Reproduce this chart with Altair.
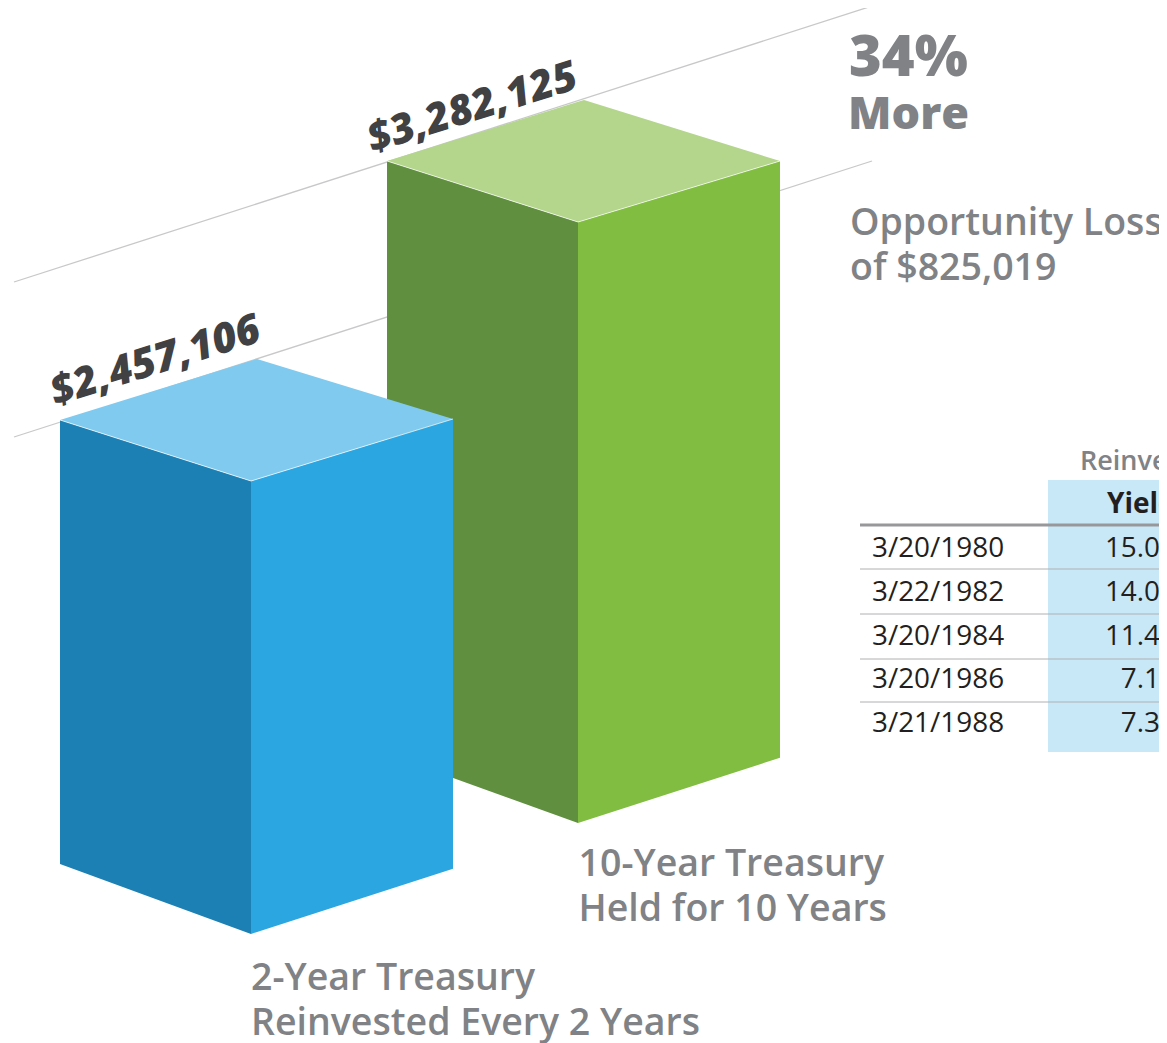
import altair as alt
import pandas as pd

# ---- values ----
bar_names = ["2-Year Treasury", "10-Year Treasury"]
bar_values = [2457106, 3282125]
bar_labels = ["$2,457,106", "$3,282,125"]
bar_captions = [["2-Year Treasury", "Reinvested Every 2 Years"], ["10-Year Treasury", "Held for 10 Years"]]
callout_big = ["34%", "More"]
callout_small = ["Opportunity Loss", "of $825,019"]
table_dates = ["3/20/1980", "3/22/1982", "3/20/1984", "3/20/1986", "3/21/1988"]
table_yields = ["15.03", "14.09", "11.45", "7.17", "7.32"]

PAGE_W, PAGE_H = 1159, 1043
M = 8
X = alt.Scale(domain=[M, PAGE_W], range=[0, PAGE_W - M], nice=False, zero=False)
Y = alt.Scale(domain=[M, PAGE_H], range=[0, PAGE_H - M], nice=False, zero=False)

GREY = "#808285"
DARK = "#414042"
INK = "#231f20"
FONT = "Open Sans"


def height_px(v):
    # linear value scale of the drawing, in pixels of front edge
    return (v + 67900) * 148 / 825019


# geometry of each box: corner x, top corner y, edge shrink from perspective
boxes = {
    "blue": dict(v=bar_values[0], xl=60, xf=251, xb=257, xr=453, yl=420, yf=481, yb=359, yr=419,
                 kl=0.980, kr=0.993, left="#1c80b4", right="#2ca6e0", top="#80caef"),
    "green": dict(v=bar_values[1], xl=387, xf=578, xb=584, xr=780, yl=161, yf=222, yb=100, yr=161,
                  kl=0.987, kr=0.993, left="#5f8f3f", right="#80bd41", top="#b3d68c"),
}


def lerp(x, x0, y0, x1, y1):
    return y0 + (y1 - y0) * (x - x0) / (x1 - x0)


def box_layers(b):
    h = height_px(b["v"])
    left = pd.DataFrame({"x": [b["xl"], b["xf"]], "y": [b["yl"], b["yf"]],
                         "y2": [b["yl"] + h * b["kl"], b["yf"] + h]})
    right = pd.DataFrame({"x": [b["xf"], b["xr"]], "y": [b["yf"], b["yr"]],
                          "y2": [b["yf"] + h, b["yr"] + h * b["kr"]]})
    top = pd.DataFrame({
        "x": [b["xl"], b["xf"], b["xb"], b["xr"]],
        "y": [b["yl"], lerp(b["xf"], b["xl"], b["yl"], b["xb"], b["yb"]), b["yb"], b["yr"]],
        "y2": [b["yl"], b["yf"], lerp(b["xb"], b["xf"], b["yf"], b["xr"], b["yr"]), b["yr"]],
    })
    out = []
    for df, col in ((left, b["left"]), (right, b["right"]), (top, b["top"])):
        out.append(alt.Chart(df).mark_area(color=col, opacity=1, line=False).encode(
            x=alt.X("x:Q", scale=X, axis=None),
            y=alt.Y("y:Q", scale=Y, axis=None),
            y2="y2:Q"))
    edge = pd.DataFrame({"x": [b["xl"], b["xf"], b["xr"]], "y": [b["yl"], b["yf"], b["yr"]]})
    out.append(alt.Chart(edge).mark_line(color="#ffffff", strokeWidth=1, opacity=0.7).encode(
        x=alt.X("x:Q", scale=X, axis=None), y=alt.Y("y:Q", scale=Y, axis=None)))
    return out


def text_layer(rows, size, color, weight=400, angle=0, style="normal", align="left"):
    df = pd.DataFrame(rows, columns=["t", "x", "y"])
    return alt.Chart(df).mark_text(
        font=FONT, fontSize=size, color=color, fontWeight=weight, angle=angle, fontStyle=style,
        align=align, baseline="alphabetic").encode(
        x=alt.X("x:Q", scale=X, axis=None), y=alt.Y("y:Q", scale=Y, axis=None), text="t:N")


def rule_layer(x0, y0, x1, y1, color, w):
    df = pd.DataFrame({"x": [x0, x1], "y": [y0, y1]})
    return alt.Chart(df).mark_line(color=color, strokeWidth=w).encode(
        x=alt.X("x:Q", scale=X, axis=None), y=alt.Y("y:Q", scale=Y, axis=None))


layers = []
# guide lines behind the boxes
layers.append(rule_layer(14, 282, 872, 6, "#c8c8ca", 1.3))
layers.append(rule_layer(14, 437, 872, 161, "#c8c8ca", 1.3))
layers += box_layers(boxes["green"])
layers += box_layers(boxes["blue"])

# value labels
layers.append(text_layer([(bar_labels[0], 55, 406)], 41.5, DARK, 800, 342.6, "italic"))
layers.append(text_layer([(bar_labels[1], 372, 153)], 41.5, DARK, 800, 342.6, "italic"))

# callouts
layers.append(text_layer([(callout_big[0], 849, 76)], 56, GREY, 800))
layers.append(text_layer([(callout_big[1], 848, 129)], 45, GREY, 800))
layers.append(text_layer([(callout_small[0], 850, 234.5), (callout_small[1], 850, 279.5)], 37.5, GREY, 600))

# captions
layers.append(text_layer([(bar_captions[1][0], 578.5, 876), (bar_captions[1][1], 578.5, 921)], 37.5, GREY, 600))
layers.append(text_layer([(bar_captions[0][0], 251, 990), (bar_captions[0][1], 251, 1035)], 37.5, GREY, 600))

# table
band = pd.DataFrame({"x": [1048], "x2": [PAGE_W], "y": [480], "y2": [752]})
layers.append(alt.Chart(band).mark_rect(color="#c8e8f8").encode(
    x=alt.X("x:Q", scale=X, axis=None), x2="x2:Q",
    y=alt.Y("y:Q", scale=Y, axis=None), y2="y2:Q"))
layers.append(rule_layer(860, 525, PAGE_W, 525, "#98989b", 3))
for yy in (569, 614, 659, 702):
    layers.append(rule_layer(860, yy, PAGE_W, yy, "#b0b0b3", 1))
layers.append(text_layer([("Reinvested", 1080, 470)], 27, GREY, 600))
layers.append(text_layer([("Yield", 1107, 513)], 28, INK, 700))
baselines = [557, 601, 645, 688, 732]
layers.append(text_layer([(d, 872, y) for d, y in zip(table_dates, baselines)], 27.9, INK))
layers.append(text_layer([(v, 1176, y) for v, y in zip(table_yields, baselines)], 27.9, INK, align="right"))

chart = alt.layer(*layers).properties(
    width=PAGE_W - M, height=PAGE_H - M,
    autosize=alt.AutoSizeParams(type="none"), padding=0,
).configure_view(stroke=None)

chart.save("out.html", embed_options={"renderer": "svg", "actions": False})
